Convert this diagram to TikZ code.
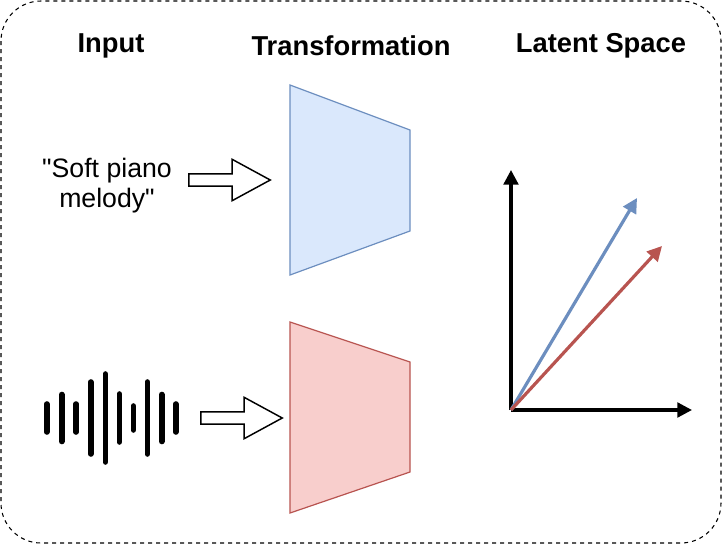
\documentclass[tikz,border=0pt]{standalone}
\usepackage{fontspec}
\setmainfont{Liberation Sans}[Ligatures=TeXOff]
\usetikzlibrary{shapes.arrows,arrows.meta}
\begin{document}
\begin{tikzpicture}[x=0.75pt,y=-0.75pt,
 title/.style={font=\fontsize{20.5}{24}\selectfont\bfseries},
 blk/.style={single arrow,draw=black,line width=1.1pt,fill=white,minimum height=61pt,minimum width=30pt,single arrow head extend=11pt,inner sep=0pt,single arrow tip angle=57},
 bar/.style={line width=4.2pt,line cap=round},
 ax/.style={line width=2.4pt,-{Triangle[length=11pt,width=11pt]}},
 vec/.style={line width=2.4pt,-{Triangle[length=11pt,width=11pt]}}]
\useasboundingbox (0,0) rectangle (722,544);
\draw[dashed,line width=0.8pt,rounded corners=30pt] (1,1) rectangle (721,543);
\node[title] (t1) at (111,46) {Input};
\node[title] (t2) at (351,46) {Transformation};
\node[title] (t3) at (601,46) {Latent Space};
\node[align=center,font=\fontsize{20}{22.5}\selectfont] (txt) at (107,186) {"Soft piano\\melody"};
\node[blk] (a1) at (224,180) {\rule{0pt}{8pt}};
\node[blk] (a2) at (236,418) {\rule{0pt}{8pt}};
\draw[fill={rgb,255:red,218;green,232;blue,252},draw={rgb,255:red,108;green,142;blue,191},line width=0.9pt] (290,85) -- (410,130) -- (410,231) -- (290,275) -- cycle;
\draw[fill={rgb,255:red,248;green,206;blue,204},draw={rgb,255:red,184;green,84;blue,80},line width=0.9pt] (290,322) -- (410,362) -- (410,472) -- (290,513) -- cycle;
\foreach \x/\h in {46.7/28,61.7/47,76/28,90.7/72,105.3/88,119.3/48,133.3/24,147.3/72,161.7/47,175.7/28}
  \draw[bar] (\x,418-\h/2) -- (\x,418+\h/2);
\coordinate (o) at (511,410);
\coordinate (yt) at (511,170);
\coordinate (xt) at (692,410);
\coordinate (bv) at (637,198);
\coordinate (rv) at (662,246);
\draw[ax] (o) -- (yt);
\draw[ax] (o) -- (xt);
\draw[vec,draw={rgb,255:red,108;green,142;blue,191},fill={rgb,255:red,108;green,142;blue,191}] (o) -- (bv);
\draw[vec,draw={rgb,255:red,184;green,84;blue,80},fill={rgb,255:red,184;green,84;blue,80}] (o) -- (rv);
\end{tikzpicture}
\end{document}
